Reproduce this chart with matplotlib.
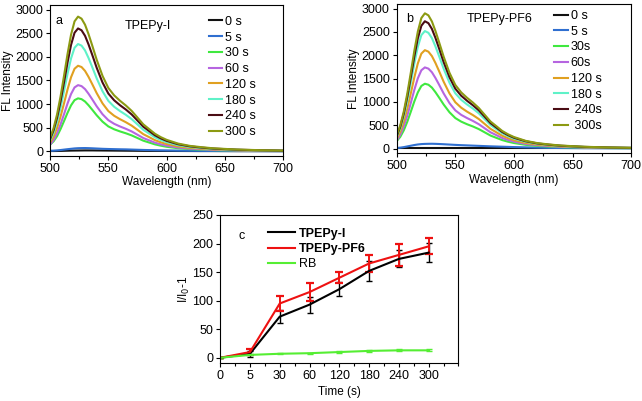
import numpy as np
import matplotlib
matplotlib.use("Agg")
import matplotlib.pyplot as plt
from matplotlib.ticker import MultipleLocator
from matplotlib.lines import Line2D

plt.rcParams['font.family'] = ['Liberation Sans', 'DejaVu Sans']
plt.rcParams['font.size'] = 8.5

# ---- spectra (panels a, b) ----
wavelength = [500, 503, 506, 509, 512, 515, 518, 521, 524, 527, 530, 533, 536,
              540, 545, 550, 555, 560, 565, 570, 575, 580, 585, 590, 595, 600,
              610, 620, 630, 640, 660, 680, 700]

labels_a = ['0 s', '5 s', '30 s', '60 s', '120 s', '180 s', '240 s', '300 s']
labels_b = ['0 s', '5 s', '30s', '60s', '120 s', '180 s', ' 240s', ' 300s']
colors = ['#111111', '#2f6fd0', '#3fe83f', '#b665e0', '#e0a020',
          '#5ff2c8', '#4a0c14', '#8c9a12']

spec_a = [
    [5, 5, 6, 8, 10, 12, 14, 15, 16, 17, 18, 18, 18, 17, 16, 15, 14, 13, 12, 11, 10, 9, 8, 8, 7, 7, 6, 5, 4, 4, 3, 3, 2],
    [10, 13, 18, 26, 35, 44, 52, 60, 65, 67, 68, 66, 63, 58, 52, 48, 45, 42, 40, 36, 32, 28, 25, 22, 19, 17, 13, 10, 8, 6, 4, 3, 2],
    [140, 210, 320, 470, 640, 815, 972, 1082, 1120, 1103, 1053, 974, 885, 762, 627, 526, 465, 420, 381, 336, 280, 224, 185, 146, 118, 95, 64, 45, 34, 25, 15, 9, 6],
    [140, 239, 384, 570, 787, 1012, 1212, 1351, 1400, 1379, 1316, 1218, 1106, 952, 784, 658, 581, 525, 476, 420, 350, 280, 231, 182, 147, 119, 80, 56, 42, 31, 18, 11, 7],
    [181, 310, 496, 737, 1017, 1309, 1567, 1747, 1810, 1783, 1701, 1575, 1430, 1231, 1014, 851, 751, 679, 615, 543, 453, 362, 299, 235, 190, 154, 103, 72, 54, 40, 24, 14, 9],
    [227, 388, 622, 924, 1276, 1641, 1966, 2191, 2270, 2236, 2134, 1975, 1793, 1544, 1271, 1067, 942, 851, 772, 681, 568, 454, 375, 295, 238, 193, 129, 91, 68, 50, 30, 18, 11],
    [260, 445, 712, 1058, 1461, 1880, 2252, 2509, 2600, 2561, 2444, 2262, 2054, 1768, 1456, 1222, 1079, 975, 884, 780, 650, 520, 429, 338, 273, 221, 148, 104, 78, 57, 34, 21, 13],
    [285, 487, 781, 1160, 1602, 2061, 2468, 2750, 2850, 2807, 2679, 2480, 2252, 1938, 1596, 1340, 1183, 1069, 969, 855, 713, 570, 470, 371, 299, 242, 162, 114, 86, 63, 37, 23, 14],
]

spec_b = [
    [2, 2, 2, 2, 2, 2, 2, 2, 2, 2, 2, 2, 2, 2, 2, 2, 2, 2, 2, 2, 2, 2, 2, 2, 2, 2, 2, 2, 2, 2, 2, 2, 2],
    [10, 18, 30, 45, 60, 75, 87, 95, 99, 101, 102, 100, 97, 92, 85, 78, 72, 67, 62, 57, 52, 47, 43, 39, 35, 31, 25, 19, 14, 11, 7, 5, 3],
    [160, 250, 390, 575, 790, 1010, 1205, 1342, 1390, 1369, 1307, 1209, 1098, 945, 778, 653, 577, 521, 473, 417, 348, 278, 229, 181, 146, 118, 79, 56, 42, 31, 18, 11, 7],
    [174, 298, 477, 708, 978, 1258, 1507, 1679, 1740, 1714, 1636, 1514, 1375, 1183, 974, 818, 722, 653, 592, 522, 435, 348, 287, 226, 183, 148, 99, 70, 52, 38, 23, 14, 9],
    [211, 361, 578, 859, 1186, 1526, 1827, 2036, 2110, 2078, 1983, 1836, 1667, 1435, 1182, 992, 876, 791, 717, 633, 528, 422, 348, 274, 222, 179, 120, 84, 63, 46, 27, 17, 11],
    [252, 431, 690, 1026, 1416, 1822, 2182, 2432, 2520, 2482, 2369, 2192, 1991, 1714, 1411, 1184, 1046, 945, 857, 756, 630, 504, 416, 328, 265, 214, 144, 101, 76, 55, 33, 20, 13],
    [273, 467, 748, 1111, 1534, 1974, 2364, 2634, 2730, 2689, 2566, 2375, 2157, 1856, 1529, 1283, 1133, 1024, 928, 819, 683, 546, 450, 355, 287, 232, 156, 109, 82, 60, 35, 22, 14],
    [290, 496, 795, 1180, 1630, 2097, 2511, 2799, 2900, 2857, 2726, 2523, 2291, 1972, 1624, 1363, 1204, 1088, 986, 870, 725, 580, 479, 377, 305, 247, 165, 116, 87, 64, 38, 23, 15],
]

# ---- time course (panel c) ----
time_labels = ['0', '5', '30', '60', '120', '180', '240', '300']
tpepy_i = [0, 7, 72, 93, 120, 152, 173, 184]
tpepy_i_err = [0, 5, 12, 14, 12, 17, 15, 17]
tpepy_pf6 = [0, 10, 95, 115, 140, 165, 180, 195]
tpepy_pf6_err = [0, 5, 13, 15, 10, 15, 20, 14]
rb = [0, 5, 7, 8, 10, 12, 13, 13]
rb_err = [0, 1, 1, 1, 1, 1.5, 1.5, 1.5]


def style_axes(ax):
    ax.tick_params(direction='out', length=3, width=0.8, top=False, right=False,
                   pad=2, labelsize=9)
    ax.tick_params(which='minor', direction='out', length=2, width=0.8)
    for s in ax.spines.values():
        s.set_linewidth(0.8)


def spectra_panel(ax, spectra, labels, letter, letter_x, letter_y, title, title_x, title_y, leg_x, leg_y):
    for y, lab, c in zip(spectra, labels, colors):
        ax.plot(wavelength, y, color=c, lw=1.5, label=lab)
    ax.set_xlim(500, 700)
    ax.set_ylim(-100, 3100)
    ax.xaxis.set_major_locator(MultipleLocator(50))
    ax.xaxis.set_minor_locator(MultipleLocator(25))
    ax.yaxis.set_major_locator(MultipleLocator(500))
    ax.set_xlabel('Wavelength (nm)', labelpad=1)
    ax.set_ylabel('FL Intensity', labelpad=1)
    style_axes(ax)
    ax.text(letter_x, letter_y, letter, transform=ax.transAxes, fontsize=9, va='center')
    ax.text(title_x, title_y, title, transform=ax.transAxes, fontsize=9, va='center')
    ax.legend(loc='upper left', bbox_to_anchor=(leg_x, leg_y), frameon=False,
              fontsize=9, handlelength=1.1, handletextpad=0.25,
              labelspacing=0.3, borderaxespad=0.0, borderpad=0.0)


fig = plt.figure(figsize=(6.42, 4.01), dpi=100)

ax_a = fig.add_axes([0.078, 0.611, 0.363, 0.377])
spectra_panel(ax_a, spec_a, labels_a, 'a', 0.025, 0.89, 'TPEPy-I', 0.32, 0.86, 0.68, 0.927)

ax_b = fig.add_axes([0.618, 0.618, 0.365, 0.372])
spectra_panel(ax_b, spec_b, labels_b, 'b', 0.04, 0.90, 'TPEPy-PF6', 0.30, 0.90, 0.67, 0.96)

ax_c = fig.add_axes([0.343, 0.095, 0.371, 0.369])
x = np.arange(len(time_labels))
ax_c.errorbar(x, tpepy_i, yerr=tpepy_i_err, color='black', lw=1.5,
              capsize=2.5, elinewidth=1.0, capthick=1.0)
ax_c.errorbar(x, tpepy_pf6, yerr=tpepy_pf6_err, color='#ee1111', lw=1.5,
              capsize=3, elinewidth=1.4, capthick=1.6)
ax_c.errorbar(x, rb, yerr=rb_err, color='#55ee33', lw=1.5,
              capsize=2, elinewidth=1.0)
ax_c.set_xlim(0, 8)
ax_c.set_ylim(-9, 250)
ax_c.set_xticks(x)
ax_c.set_xticklabels(time_labels)
ax_c.xaxis.set_minor_locator(MultipleLocator(0.5))
ax_c.yaxis.set_major_locator(MultipleLocator(50))
ax_c.set_xlabel('Time (s)', labelpad=3)
ax_c.set_ylabel('I/I$_0$-1', labelpad=0)
style_axes(ax_c)
ax_c.text(0.075, 0.855, 'c', transform=ax_c.transAxes, fontsize=9, va='center')
handles = [Line2D([], [], color='black', lw=1.5),
           Line2D([], [], color='#ee1111', lw=1.5),
           Line2D([], [], color='#55ee33', lw=1.5)]
leg = ax_c.legend(handles, ['TPEPy-I', 'TPEPy-PF6', 'RB'], loc='upper left',
                  bbox_to_anchor=(0.2, 0.913), frameon=False, fontsize=9,
                  handlelength=2.2, handletextpad=0.3, labelspacing=0.25,
                  borderaxespad=0.0, borderpad=0.0)
for t in leg.get_texts()[:2]:
    t.set_fontweight('bold')

fig.savefig('out.png', dpi=100)
